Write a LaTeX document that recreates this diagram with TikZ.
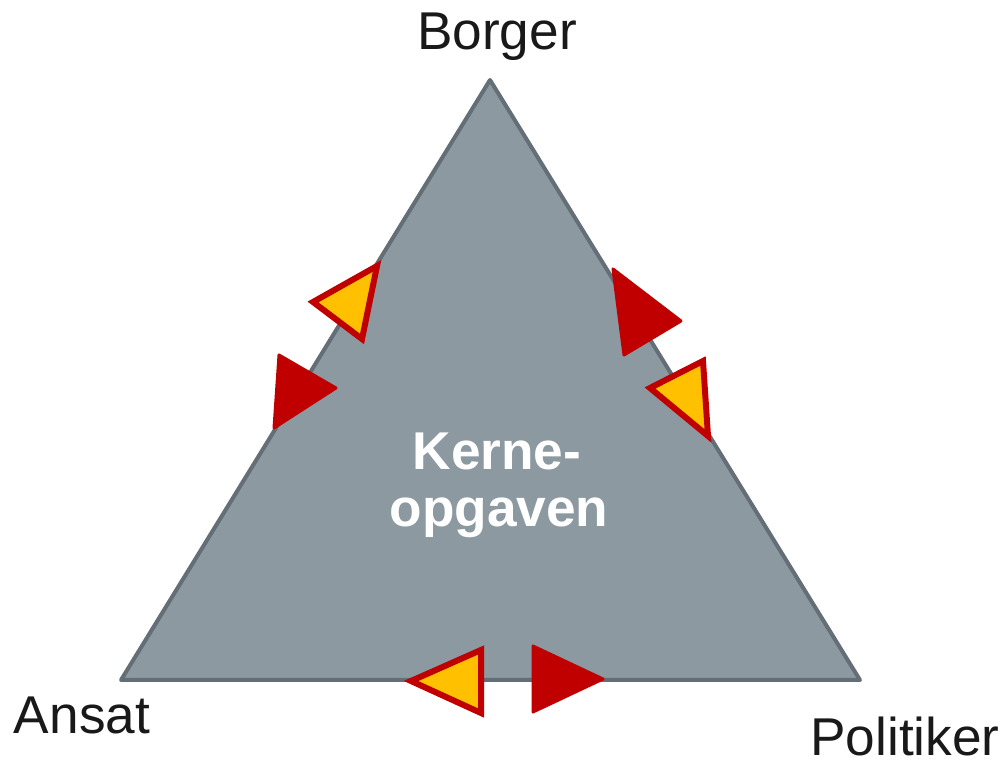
\documentclass[tikz,border=0pt]{standalone}
\usepackage{fontspec}
\setmainfont{Liberation Sans}
\definecolor{kernefill}{HTML}{8C99A1}
\definecolor{kerneedge}{HTML}{646E76}
\definecolor{pilred}{HTML}{C00000}
\definecolor{pilyellow}{HTML}{FFC000}
\begin{document}
\begin{tikzpicture}[
	x=0.5pt, y=-0.5pt,
	font=\fontsize{26.6}{30}\selectfont,
	kerne/.style={draw=kerneedge, fill=kernefill, line width=2pt, line join=round},
	red pil/.style={draw=pilred, fill=pilred, line width=1.5pt, line join=round},
	yellow pil/.style={draw=pilred, fill=pilyellow, line width=3pt, line join=miter},
	label/.style={anchor=base, inner sep=0pt, text depth=0pt, text=black!90},
	centre/.style={anchor=base, inner sep=0pt, text=white, font=\fontsize{26.6}{30}\selectfont\bfseries},
	]
\useasboundingbox (0,0) rectangle (1007,763);
% corners of the triangle
\coordinate (borger) at (490,80);
\coordinate (ansat) at (121,680);
\coordinate (politiker) at (860,680);
\filldraw [kerne] (borger) -- (politiker) -- (ansat) -- cycle;
% labels
\node [label] (borgertxt) at (497,50) {Borger};
\node [label] (ansattxt) at (82,734) {Ansat};
\node [label] (politikertxt) at (905,756) {Politiker};
\node [centre] (kerne) at (497,470) {Kerne-};
\node [centre] (opgaven) at (499,527) {opgaven};
% Borger - Ansat
\filldraw [yellow pil] (377,266) -- (313,302) -- (362,339) -- cycle;
\filldraw [red pil] (279,355) -- (336,388) -- (274,428) -- cycle;
% Borger - Politiker
\filldraw [red pil] (613,269) -- (681,321) -- (624,355) -- cycle;
\filldraw [yellow pil] (703,361) -- (650,388) -- (708,436) -- cycle;
% Ansat - Politiker
\filldraw [yellow pil] (481,650) -- (411,681) -- (481,713) -- cycle;
\filldraw [red pil] (533,646) -- (603,679) -- (533,712) -- cycle;
\end{tikzpicture}
\end{document}
